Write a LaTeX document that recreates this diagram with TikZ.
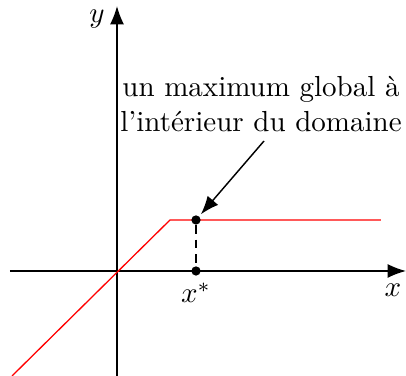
\documentclass[tikz,border=0pt]{standalone}
\usetikzlibrary{arrows.meta}
\begin{document}
\begin{tikzpicture}[x=0.3448pt,y=-0.3448pt,
  tip/.style={-{Latex[length=6.3pt,width=4.8pt]}},
  axis/.style={line width=0.55pt,tip},
  curve/.style={red,line width=0.45pt},
  dot/.style={circle,fill=black,inner sep=0pt,minimum size=3.2pt},
  lbl/.style={inner sep=0pt}]
\useasboundingbox (0,0) rectangle (406,376);
\coordinate (xs) at (10,271);
\coordinate (xe) at (406,271);
\coordinate (ys) at (117,376);
\coordinate (ye) at (117,6);
\draw[axis] (xs) -- (xe);
\draw[axis] (ys) -- (ye);
\coordinate (r0) at (12,376);
\coordinate (r1) at (170,220);
\coordinate (r2) at (381,220);
\draw[curve] (r0) -- (r1) -- (r2);
\node[dot] (P) at (196,220) {};
\node[dot] (Q) at (196,271) {};
\draw[line width=0.5pt,dash pattern=on 3pt off 2pt] (P) -- (Q);
\node[lbl] (xstar) at (196,293) {$x^*$};
\node[lbl] (xl) at (393,290) {$x$};
\node[lbl] (yl) at (97,19) {$y$};
\node[lbl,anchor=base] (t1) at (261,97) {un maximum global à};
\node[lbl,anchor=base] (t2) at (261,132) {l'intérieur du domaine};
\coordinate (A) at (264,141);
\draw[line width=0.5pt,tip,shorten >=0.8pt] (A) -- (P);
\end{tikzpicture}
\end{document}
